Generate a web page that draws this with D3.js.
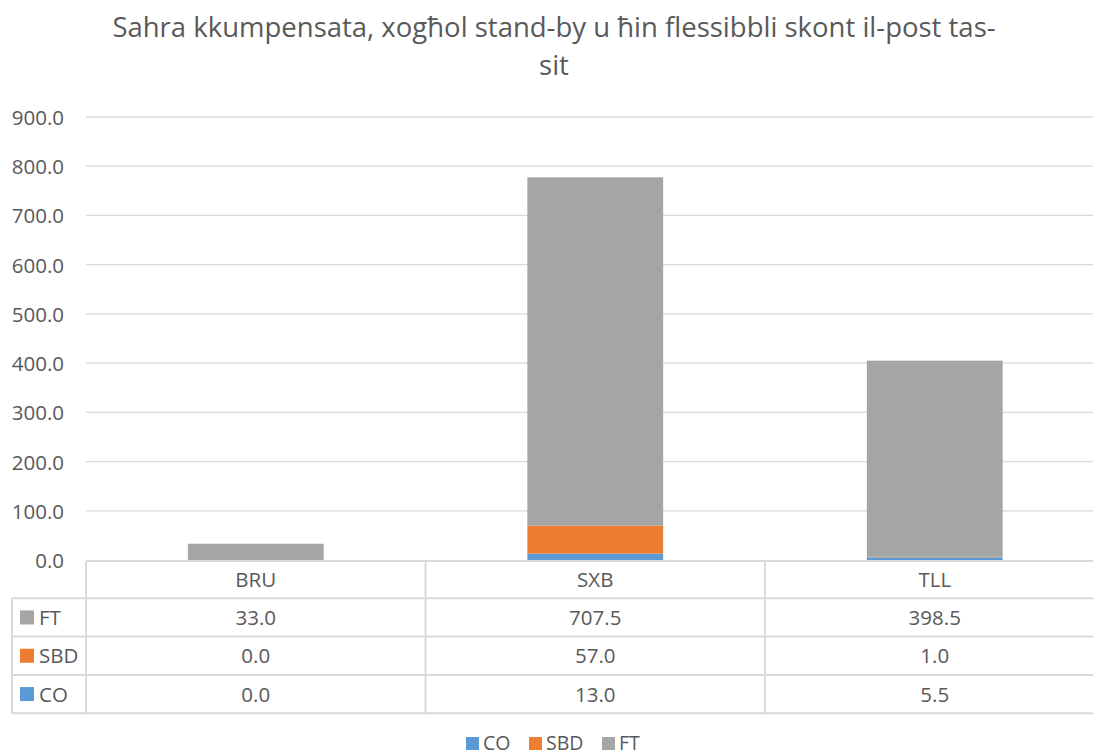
<!DOCTYPE html>
<html><head><meta charset="utf-8">
<script src="https://cdn.jsdelivr.net/npm/d3@7"></script>
<style>body{margin:0;background:#fff;overflow:hidden}svg{display:block;font-family:"Open Sans","Noto Sans",sans-serif}</style>
</head><body><svg id="c" width="1093" height="756"></svg>
<script>
const categories = ["BRU","SXB","TLL"];
const seriesNames = ["CO","SBD","FT"];
const CO = [0.0, 13.0, 5.5];
const SBD = [0.0, 57.0, 1.0];
const FT = [33.0, 707.5, 398.5];
const yTicks = [0,100,200,300,400,500,600,700,800,900];
const titleLines = ["Sahra kkumpensata, xogħol stand-by u ħin flessibbli skont il-post tas-","sit"];
const colors = {CO:"#5B9BD5", SBD:"#ED7D31", FT:"#A5A5A5"};
const seriesData = {CO, SBD, FT};

(function(){
const svg = d3.select("#c");
const pL = 86, pR = 1104.5, pT = 117, pB = 560;
const x = d3.scaleBand().domain(categories).range([pL,pR]).paddingInner(0.6).paddingOuter(0.3);
const xCol = d3.scaleBand().domain(categories).range([pL,pR]);
const y = d3.scaleLinear().domain([0,900]).range([pB,pT]);
const txt = "#595959", grid = "#D9D9D9";
const fs = 20.5;

svg.append("g").selectAll("text").data(titleLines).join("text")
  .attr("x",554).attr("y",(d,i)=>37+i*38).attr("text-anchor","middle")
  .attr("font-size",27.5).attr("fill",txt).text(d=>d);

svg.append("g").selectAll("line").data(yTicks.filter(t=>t>0)).join("line")
  .attr("x1",pL).attr("x2",pR).attr("y1",d=>y(d)).attr("y2",d=>y(d))
  .attr("stroke",grid).attr("stroke-width",1.3);

svg.append("g").selectAll("text").data(yTicks).join("text")
  .attr("x",64).attr("y",d=>y(d)+8).attr("text-anchor","end")
  .attr("font-size",fs).attr("fill",txt).text(d=>d3.format(".1f")(d));

const rows = categories.map((c,i)=>({cat:c, CO:CO[i], SBD:SBD[i], FT:FT[i]}));
const stack = d3.stack().keys(seriesNames)(rows);
svg.append("g").selectAll("g").data(stack).join("g").attr("fill",d=>colors[d.key])
  .selectAll("rect").data(d=>d).join("rect")
  .attr("x",d=>x(d.data.cat)).attr("width",x.bandwidth())
  .attr("y",d=>y(d[1])).attr("height",d=>Math.max(0,y(d[0])-y(d[1])));

const rowH = 38.3;
const tableRows = ["FT","SBD","CO"];
const tTop = pB+1;
const tg = svg.append("g");
const lineAttrs = s=>s.attr("stroke",grid).attr("stroke-width",2);
tg.append("line").attr("x1",pL).attr("x2",pR).attr("y1",tTop).attr("y2",tTop).call(lineAttrs);
for(let r=1;r<=4;r++){
  const yy = tTop + r*rowH - 1;
  tg.append("line").attr("x1",12).attr("x2",pR).attr("y1",yy).attr("y2",yy).call(lineAttrs);
}
const tBottom = tTop + 4*rowH - 1;
tg.append("line").attr("x1",12).attr("x2",12).attr("y1",tTop+rowH-1).attr("y2",tBottom).call(lineAttrs);
categories.forEach(c=>{
  tg.append("line").attr("x1",xCol(c)).attr("x2",xCol(c)).attr("y1",tTop).attr("y2",tBottom).call(lineAttrs);
});
tg.selectAll("text.h").data(categories).join("text").attr("class","h")
  .attr("x",d=>xCol(d)+xCol.bandwidth()/2).attr("y",tTop+rowH/2+7)
  .attr("text-anchor","middle").attr("font-size",fs).attr("fill",txt).text(d=>d);
tableRows.forEach((s,ri)=>{
  const cy = tTop + (ri+1)*rowH + rowH/2 - 1;
  tg.append("rect").attr("x",20).attr("y",cy-7).attr("width",14).attr("height",14).attr("fill",colors[s]);
  tg.append("text").attr("x",39).attr("y",cy+7.5).attr("font-size",fs).attr("fill",txt).text(s);
  tg.selectAll(null).data(categories).join("text")
    .attr("x",d=>xCol(d)+xCol.bandwidth()/2).attr("y",cy+7.5)
    .attr("text-anchor","middle").attr("font-size",fs).attr("fill",txt)
    .text((d,i)=>d3.format(".1f")(seriesData[s][i]));
});

const legendItems = [{k:"CO",x:466},{k:"SBD",x:529},{k:"FT",x:602}];
const lg = svg.append("g");
legendItems.forEach(it=>{
  lg.append("rect").attr("x",it.x).attr("y",737).attr("width",13).attr("height",13).attr("fill",colors[it.k]);
  lg.append("text").attr("x",it.x+17).attr("y",750).attr("font-size",19.5).attr("fill",txt).text(it.k);
});
})();
</script></body></html>
